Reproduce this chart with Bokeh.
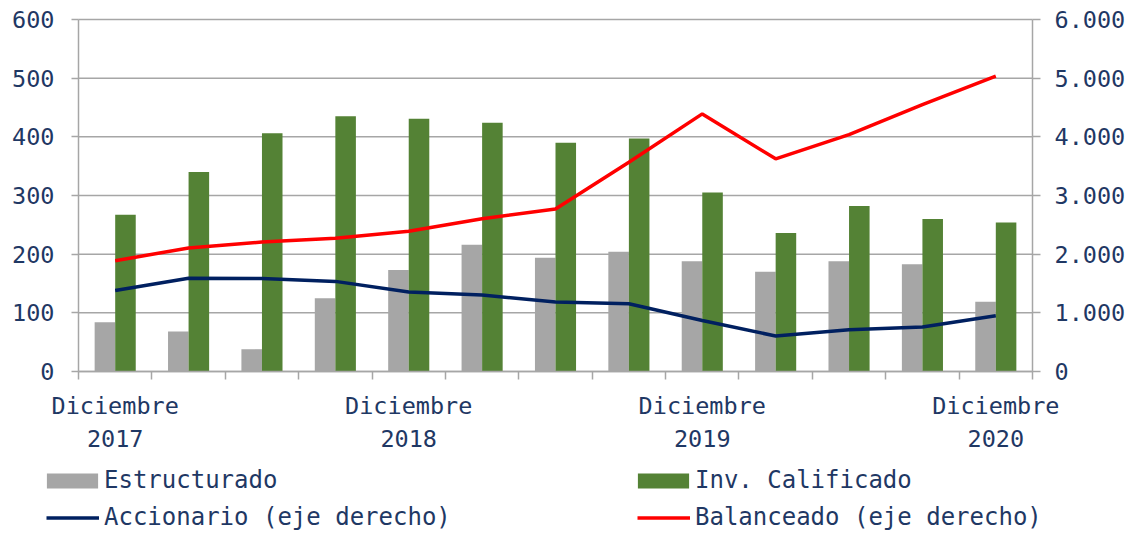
import numpy as np
from bokeh.plotting import figure
from bokeh.models import Range1d, LinearAxis, FixedTicker, Legend, LegendItem
from bokeh.embed import file_html
from bokeh.resources import INLINE

# ---- data ----
periods = ["Dic 2017", "Mar 2018", "Jun 2018", "Sep 2018", "Dic 2018", "Mar 2019",
           "Jun 2019", "Sep 2019", "Dic 2019", "Mar 2020", "Jun 2020", "Sep 2020", "Dic 2020"]
estructurado = [84, 68, 38, 125, 173, 216, 194, 204, 188, 170, 188, 183, 119]
inv_calificado = [267, 340, 406, 435, 431, 424, 390, 397, 305, 236, 282, 260, 254]
accionario = [1380, 1590, 1587, 1536, 1354, 1303, 1183, 1155, 870, 605, 711, 757, 950]
balanceado = [1889, 2105, 2207, 2270, 2389, 2605, 2770, 3567, 4391, 3625, 4039, 4551, 5034]
x_label_idx = [0, 4, 8, 12]
x_labels = ["Diciembre\n2017", "Diciembre\n2018", "Diciembre\n2019", "Diciembre\n2020"]
left_ticks = [0, 100, 200, 300, 400, 500, 600]
right_ticks = [0, 1000, 2000, 3000, 4000, 5000, 6000]
right_labels = ["0", "1.000", "2.000", "3.000", "4.000", "5.000", "6.000"]
series_names = ["Estructurado", "Inv. Calificado", "Accionario (eje derecho)", "Balanceado (eje derecho)"]

# ---- style / layout ----
FONT = "DejaVu Sans Mono"
TXT = "#1F3864"
GRID = "#A6A6A6"
C_GRAY = "#A6A6A6"
C_GREEN = "#548235"
C_NAVY = "#002060"
C_RED = "#FF0000"
FS = "23.5px"
FS_LEG = "24px"
BAR_W = 0.28
LW = 3.5

W, H = 1130, 531                 # canvas size
PL, PR, PT, PB = 78, 1032, 19, 371  # plot-area edges in canvas pixels
LEFT_MAX, RIGHT_MAX = 600, 6000

n = len(periods)
xc = np.arange(n) + 0.5

# ranges chosen so that the data area sits at PL..PR / PT..PB while the frame is the whole canvas
kx = n / (PR - PL)
ky = LEFT_MAX / (PB - PT)
x0, x1 = -PL * kx, n + (W - PR) * kx
y0, y1 = -(H - PB) * ky, LEFT_MAX + PT * ky
rs = RIGHT_MAX / LEFT_MAX

p = figure(width=W, height=H, output_backend="svg", toolbar_location=None, title=None,
           x_range=Range1d(x0, x1), y_range=Range1d(y0, y1))
p.min_border_left = p.min_border_right = p.min_border_top = p.min_border_bottom = 0
p.extra_y_ranges = {"right": Range1d(y0 * rs, y1 * rs)}
p.outline_line_color = None
p.background_fill_color = "white"
p.border_fill_color = "white"
p.xgrid.visible = False
p.ygrid.visible = False

# horizontal grid lines, limited to the plot area
p.segment(x0=[0] * len(left_ticks), x1=[n] * len(left_ticks), y0=left_ticks, y1=left_ticks,
          line_color=GRID, line_width=1.5)

r_gray = p.vbar(x=xc - BAR_W / 2, top=estructurado, width=BAR_W, fill_color=C_GRAY, line_color=None)
r_green = p.vbar(x=xc + BAR_W / 2, top=inv_calificado, width=BAR_W, fill_color=C_GREEN, line_color=None)
r_acc = p.line(xc, accionario, y_range_name="right", line_color=C_NAVY, line_width=LW)
r_bal = p.line(xc, balanceado, y_range_name="right", line_color=C_RED, line_width=LW)

# x axis
xa = p.xaxis[0]
xa.fixed_location = 0
xa.bounds = (0, n)
xa.ticker = FixedTicker(ticks=[float(xc[i]) for i in x_label_idx], minor_ticks=list(range(n + 1)))
xa.major_label_overrides = {float(xc[i]): lab for i, lab in zip(x_label_idx, x_labels)}
xa.major_tick_out = 0
xa.major_tick_in = 0
xa.minor_tick_out = 8
xa.minor_tick_in = 0
xa.minor_tick_line_color = GRID
xa.minor_tick_line_width = 1.5
xa.axis_line_color = GRID
xa.axis_line_width = 1.5
xa.major_label_standoff = 12
xa.major_label_text_font = FONT
xa.major_label_text_font_size = FS
xa.major_label_text_color = TXT

# left axis
ya = p.yaxis[0]
ya.fixed_location = 0
ya.bounds = (0, LEFT_MAX)
ya.ticker = FixedTicker(ticks=left_ticks)
ya.major_tick_out = 7
ya.major_tick_in = 0
ya.minor_tick_line_color = None
ya.major_tick_line_color = GRID
ya.major_tick_line_width = 1.5
ya.axis_line_color = GRID
ya.axis_line_width = 1.5
ya.major_label_standoff = 17
ya.major_label_text_font = FONT
ya.major_label_text_font_size = FS
ya.major_label_text_color = TXT

# right axis
ra = LinearAxis(y_range_name="right", ticker=FixedTicker(ticks=right_ticks),
                major_label_overrides={t: l for t, l in zip(right_ticks, right_labels)})
ra.fixed_location = n
ra.bounds = (0, RIGHT_MAX)
ra.major_tick_out = 8
ra.major_tick_in = 0
ra.minor_tick_line_color = None
ra.major_tick_line_color = GRID
ra.major_tick_line_width = 1.5
ra.axis_line_color = GRID
ra.axis_line_width = 1.5
ra.major_label_standoff = 14
ra.major_label_text_font = FONT
ra.major_label_text_font_size = FS
ra.major_label_text_color = TXT
p.add_layout(ra, "right")


def make_legend(items, loc, gw, gh, standoff, lw):
    return Legend(items=items, orientation="horizontal", location=loc,
                  glyph_width=gw, glyph_height=gh, label_standoff=standoff, label_width=lw,
                  label_height=24, spacing=0, padding=0, margin=0,
                  border_line_color=None, background_fill_alpha=0,
                  label_text_font=FONT, label_text_font_size=FS_LEG, label_text_color=TXT)


# bar legend glyphs are drawn inset by 10%, so the glyph box is enlarged to keep the patch size
p.add_layout(make_legend([LegendItem(label=series_names[0], renderers=[r_gray]),
                          LegendItem(label=series_names[1], renderers=[r_green])],
                         (40, 37), 64, 19, 0, 527))
p.add_layout(make_legend([LegendItem(label=series_names[2], renderers=[r_acc]),
                          LegendItem(label=series_names[3], renderers=[r_bal])],
                         (46, 0), 53, 15, 5, 533))

open("out.html", "w").write(file_html(p, INLINE))
